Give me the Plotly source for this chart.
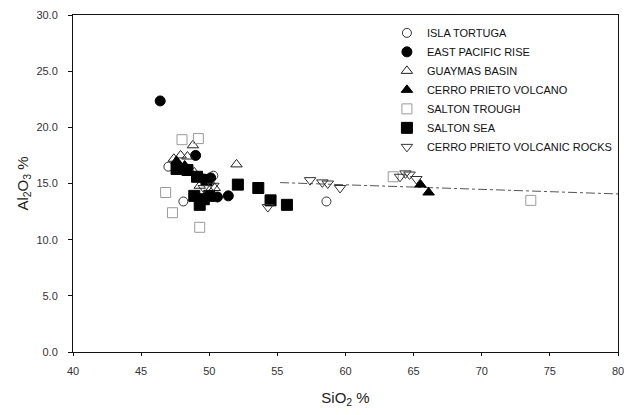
import plotly.graph_objects as go

# ---- data (SiO2 %, Al2O3 %) ----
isla_tortuga_x = [47.0, 48.1, 58.6, 50.3]
isla_tortuga_y = [16.5, 13.4, 13.4, 15.7]

east_pacific_rise_x = [46.4, 49.0, 50.6, 51.4, 49.6, 50.1]
east_pacific_rise_y = [22.35, 17.5, 13.8, 13.9, 15.4, 15.5]

guaymas_basin_x = [52.0, 47.4, 47.9, 48.4, 48.9, 50.0, 49.3, 50.4, 48.8]
guaymas_basin_y = [16.7, 17.2, 17.5, 17.4, 16.0, 15.2, 14.8, 14.6, 18.4]

cerro_prieto_volcano_x = [65.5, 66.1, 47.6, 48.2]
cerro_prieto_volcano_y = [14.9, 14.2, 17.0, 16.6]

salton_trough_x = [63.5, 73.6, 48.0, 49.2, 46.8, 47.3, 49.3]
salton_trough_y = [15.6, 13.5, 18.9, 19.0, 14.2, 12.4, 11.1]

salton_sea_x = [52.1, 53.6, 54.5, 55.7, 47.6, 48.4, 49.1, 49.8, 48.9, 49.6, 49.3, 50.0]
salton_sea_y = [14.9, 14.6, 13.5, 13.1, 16.3, 16.2, 15.6, 15.3, 13.9, 13.6, 13.1, 13.9]

cp_volcanic_rocks_x = [57.4, 58.3, 58.7, 59.6, 64.0, 64.4, 64.7, 65.2, 54.3, 49.6, 50.3]
cp_volcanic_rocks_y = [15.3, 15.1, 15.0, 14.6, 15.6, 15.9, 15.8, 15.4, 12.9, 14.6, 14.8]

trend_x = [55.2, 80.0]
trend_y = [15.08, 14.07]

x_ticks = [40, 45, 50, 55, 60, 65, 70, 75, 80]
y_ticks = [0, 5, 10, 15, 20, 25, 30]

series = [
    ("ISLA TORTUGA", isla_tortuga_x, isla_tortuga_y, "circle-open", 9, "#333333"),
    ("EAST PACIFIC RISE", east_pacific_rise_x, east_pacific_rise_y, "circle", 10, "#000000"),
    ("GUAYMAS BASIN", guaymas_basin_x, guaymas_basin_y, "triangle-up-open", 10, "#222222"),
    ("CERRO PRIETO VOLCANO", cerro_prieto_volcano_x, cerro_prieto_volcano_y, "triangle-up", 10, "#000000"),
    ("SALTON TROUGH", salton_trough_x, salton_trough_y, "square-open", 10, "#9a9a9a"),
    ("SALTON SEA", salton_sea_x, salton_sea_y, "square", 11, "#000000"),
    ("CERRO PRIETO VOLCANIC ROCKS", cp_volcanic_rocks_x, cp_volcanic_rocks_y, "triangle-down-open", 10, "#333333"),
]

fig = go.Figure()

fig.add_trace(go.Scatter(
    x=trend_x, y=trend_y, mode="lines", showlegend=False,
    line=dict(color="#555555", width=1, dash="dashdot"), hoverinfo="skip"))

for name, xs, ys, sym, size, col in series:
    fig.add_trace(go.Scatter(
        x=xs, y=ys, mode="markers", name=name,
        marker=dict(symbol=sym, size=size, color=col,
                    line=dict(width=1, color=col))))

font_family = "Liberation Sans Narrow, Liberation Sans, Arial, sans-serif"

fig.update_layout(
    width=624, height=415,
    margin=dict(l=73, r=6, t=15, b=63, autoexpand=False),
    paper_bgcolor="white", plot_bgcolor="white",
    font=dict(family=font_family, color="#222222", size=11),
    legend=dict(x=0.576, y=0.99, xanchor="left", yanchor="top",
                bgcolor="rgba(0,0,0,0)", font=dict(size=11, color="#111111"),
                tracegroupgap=0),
    xaxis=dict(range=[40, 80], tickvals=x_ticks, ticktext=[str(v) for v in x_ticks],
               showgrid=False, zeroline=False, showline=True, linecolor="#111111",
               linewidth=1, mirror=True, ticks="outside", ticklen=3, tickcolor="#111111",
               tickfont=dict(size=11, color="#333333"), ticklabelstandoff=6,
               ticklabeloverflow="allow", automargin=False,
               title=dict(text="SiO<sub>2</sub> %", font=dict(size=15, color="#222222"),
                          standoff=16)),
    yaxis=dict(range=[0, 30], tickvals=y_ticks, ticktext=[f"{v:.1f}" for v in y_ticks],
               showgrid=False, zeroline=False, showline=True, linecolor="#111111",
               linewidth=1, mirror=True, ticks="outside", ticklen=4, tickcolor="#111111",
               tickfont=dict(size=11, color="#333333"), ticklabelstandoff=8,
               ticklabeloverflow="allow", automargin=False,
               title=dict(text="Al<sub>2</sub>O<sub>3</sub> %", font=dict(size=15, color="#222222"),
                          standoff=4)),
)

post_js = (
    "document.body.style.margin='0';document.body.style.padding='0';"
    "document.documentElement.style.overflow='hidden';"
    "Plotly.relayout('{plot_id}', {width: 624, height: 415});"
)

fig.write_html("out.html", post_script=post_js,
               config={"responsive": False, "displayModeBar": False})
